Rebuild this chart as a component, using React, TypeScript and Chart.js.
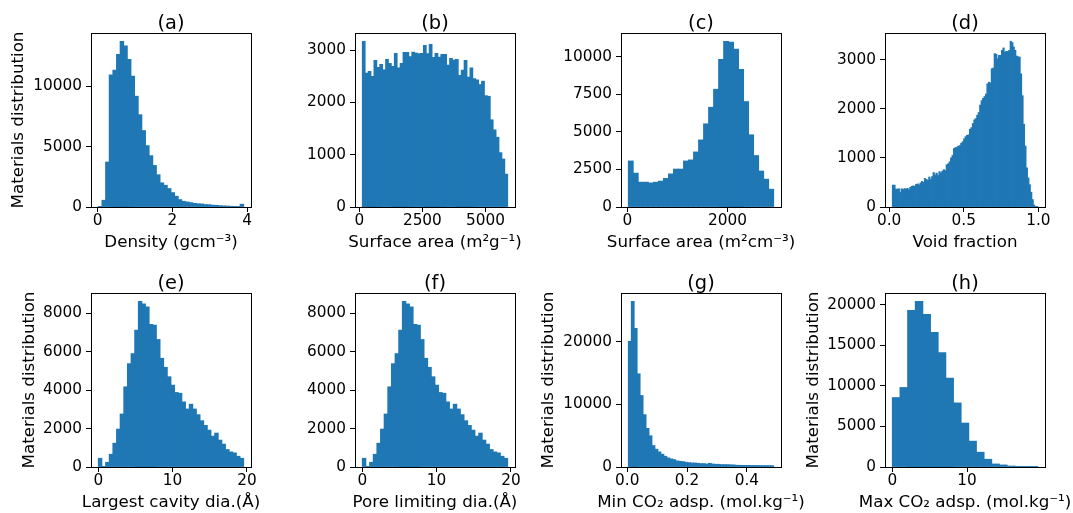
import React, { useEffect, useRef } from 'react';
import { Chart, registerables } from 'chart.js';

Chart.register(...registerables);

const FONT = "'DejaVu Sans', 'Liberation Sans', sans-serif";
const BAR_COLOR = '#1f77b4';
const TICK_SIZE = 15.3;
const LABEL_SIZE = 16.7;
const TITLE_SIZE = 19.4;
const Y_LABEL = 'Materials distribution';

// ---------- (a) Density ----------
const densityStart = 0.02;
const densityWidth = 0.0973;
const densityCounts = [20, 555, 3720, 10940, 11330, 12640, 13720, 13330, 12220, 10830, 9170, 7640, 6330, 5080, 4250, 3440, 2670, 2000, 1800, 1530, 1190, 890, 610, 470, 420, 360, 300, 270, 250, 200, 190, 150, 140, 110, 90, 80, 60, 50, 40, 230];
const densityXTicks = [0, 2, 4];
const densityYTicks = [0, 5000, 10000];

// ---------- (b) Surface area (m2/g) ----------
const gravStart = 120;
const gravWidth = 115.2;
const gravCounts = [3172, 2562, 2594, 2498, 2806, 2671, 2729, 2626, 2825, 2748, 2690, 2940, 2664, 2748, 2960, 2960, 2876, 2966, 2947, 2934, 2940, 3094, 2934, 3114, 2863, 2940, 2870, 2921, 2921, 2716, 2844, 2812, 2825, 2517, 2620, 2806, 2485, 2664, 2459, 2433, 2343, 2408, 2131, 2119, 1669, 1477, 1335, 1040, 918, 629];
const gravXTicks = [0, 2500, 5000];
const gravYTicks = [0, 1000, 2000, 3000];

// ---------- (c) Surface area (m2/cm3) ----------
const volStart = 20;
const volWidth = 100;
const volCounts = [3060, 2250, 1650, 1650, 1600, 1650, 1720, 1900, 2200, 2520, 2520, 3060, 3130, 3660, 4460, 5530, 6630, 7830, 9820, 11020, 10960, 10490, 9150, 7010, 4800, 3420, 2390, 1850, 1180];
const volXTicks = [0, 2000];
const volYTicks = [0, 2500, 5000, 7500, 10000];

// ---------- (d) Void fraction ----------
const voidStart = 0.021;
const voidWidth = 0.00975;
const voidCounts = [
  445, 445, 363, 363, 370, 300, 370, 355, 375, 360,
  380, 350, 400, 420, 430, 420, 460, 470, 450, 490,
  520, 500, 580, 560, 540, 610, 560, 620, 700, 650,
  690, 640, 720, 690, 730, 760, 740, 860, 880, 920,
  1000, 1050, 1190, 1210, 1220, 1240, 1250, 1300, 1330, 1390,
  1432, 1460, 1470, 1583, 1617, 1700, 1775, 1802, 1870, 1925,
  2076, 2165, 2213, 2250, 2302, 2508, 2542, 2528, 2816, 2830,
  3124, 3110, 3021, 3090, 3090, 3192, 3240, 3158, 3172, 3172,
  3192, 3377, 3350, 3261, 3192, 3076, 3060, 3055, 2713, 2268,
  1686, 1241, 796, 590, 453, 300, 150, 40, 10, 5,
];
const voidXTicks = [0, 0.5, 1];
const voidYTicks = [0, 1000, 2000, 3000];

// ---------- (e) Largest cavity diameter ----------
const lcdStart = 0;
const lcdWidth = 0.48925;
const lcdCounts = [454, 35, 245, 664, 1240, 1974, 2760, 4175, 5380, 5905, 7128, 8630, 8490, 8333, 7425, 7390, 6640, 5660, 5190, 4700, 4263, 3880, 3840, 3390, 3020, 3270, 3020, 2725, 2410, 2166, 1920, 1607, 1765, 1400, 1190, 910, 786, 735, 560, 454];
const lcdXTicks = [0, 10, 20];
const lcdYTicks = [0, 2000, 4000, 6000, 8000];

// ---------- (f) Pore limiting diameter ----------
const pldStart = 0;
const pldWidth = 0.48925;
const pldCounts = [454, 35, 245, 664, 1240, 1974, 2760, 4175, 5380, 5905, 7128, 8630, 8490, 8333, 7425, 7390, 6640, 5660, 5190, 4700, 4263, 3880, 3840, 3390, 3020, 3270, 3020, 2725, 2410, 2166, 1920, 1607, 1765, 1400, 1190, 910, 786, 735, 560, 454];
const pldXTicks = [0, 10, 20];
const pldYTicks = [0, 2000, 4000, 6000, 8000];

// ---------- (g) Min CO2 adsorption ----------
const minStart = 0.0034;
const minWidth = 0.009931;
const minCounts = [20100, 26500, 22160, 14900, 11430, 8370, 6170, 4990, 3430, 2840, 2410, 2040, 1720, 1450, 1290, 1180, 970, 910, 860, 750, 700, 640, 640, 590, 540, 540, 480, 590, 480, 430, 430, 380, 380, 370, 350, 330, 280, 270, 260, 250, 250, 240, 240, 230, 230, 220, 220, 220, 210];
const minXTicks = [0, 0.2, 0.4];
const minYTicks = [0, 10000, 20000];

// ---------- (h) Max CO2 adsorption ----------
const maxStart = 0;
const maxWidth = 1.0237;
const maxCounts = [8550, 9790, 19290, 20410, 18800, 16570, 14090, 10950, 7890, 5410, 3180, 1820, 950, 370, 250, 120, 80, 40, 30];
const maxXTicks = [0, 10];
const maxYTicks = [0, 5000, 10000, 15000, 20000];

// ---------- layout ----------
const AX_W = 160;
const AX_H = 174;
const PAD_L = 90;
const PAD_T = 33;
const PAD_R = 40;
const PAD_B = 56;
const COL_LEFT = [91, 355, 621, 885];
const ROW_TOP = [33, 293];

const panels = [
  { title: '(a)', xLabel: 'Density (gcm⁻³)', yLabel: Y_LABEL, yOff: 72.4, start: densityStart, width: densityWidth, counts: densityCounts, xTicks: densityXTicks, yTicks: densityYTicks, xDec: 0, col: 0, row: 0 },
  { title: '(b)', xLabel: 'Surface area (m²g⁻¹)', yLabel: '', yOff: 0, start: gravStart, width: gravWidth, counts: gravCounts, xTicks: gravXTicks, yTicks: gravYTicks, xDec: 0, col: 1, row: 0 },
  { title: '(c)', xLabel: 'Surface area (m²cm⁻³)', yLabel: '', yOff: 0, start: volStart, width: volWidth, counts: volCounts, xTicks: volXTicks, yTicks: volYTicks, xDec: 0, col: 2, row: 0 },
  { title: '(d)', xLabel: 'Void fraction', yLabel: '', yOff: 0, start: voidStart, width: voidWidth, counts: voidCounts, xTicks: voidXTicks, yTicks: voidYTicks, xDec: 1, col: 3, row: 0 },
  { title: '(e)', xLabel: 'Largest cavity dia.(Å)', yLabel: Y_LABEL, yOff: 61, start: lcdStart, width: lcdWidth, counts: lcdCounts, xTicks: lcdXTicks, yTicks: lcdYTicks, xDec: 0, col: 0, row: 1 },
  { title: '(f)', xLabel: 'Pore limiting dia.(Å)', yLabel: '', yOff: 0, start: pldStart, width: pldWidth, counts: pldCounts, xTicks: pldXTicks, yTicks: pldYTicks, xDec: 0, col: 1, row: 1 },
  { title: '(g)', xLabel: 'Min CO₂ adsp. (mol.kg⁻¹)', yLabel: Y_LABEL, yOff: 72.7, start: minStart, width: minWidth, counts: minCounts, xTicks: minXTicks, yTicks: minYTicks, xDec: 1, col: 2, row: 1 },
  { title: '(h)', xLabel: 'Max CO₂ adsp. (mol.kg⁻¹)', yLabel: Y_LABEL, yOff: 71.7, start: maxStart, width: maxWidth, counts: maxCounts, xTicks: maxXTicks, yTicks: maxYTicks, xDec: 0, col: 3, row: 1 },
];

const framePlugin = {
  id: 'frame',
  afterDraw(chart: any, _args: any, o: any) {
    const { ctx, chartArea: ca } = chart;
    ctx.save();
    ctx.strokeStyle = '#000';
    ctx.lineWidth = 1;
    ctx.strokeRect(ca.left + 0.5, ca.top + 0.5, ca.right - ca.left, ca.bottom - ca.top);
    ctx.fillStyle = '#000';
    ctx.textAlign = 'center';
    ctx.textBaseline = 'middle';
    const cx = (ca.left + ca.right) / 2;
    ctx.font = `${TITLE_SIZE}px ${FONT}`;
    ctx.fillText(o.title, cx, ca.top - 9.5);
    ctx.font = `${LABEL_SIZE}px ${FONT}`;
    ctx.fillText(o.xLabel, cx, ca.bottom + 35.5);
    if (o.yLabel) {
      ctx.translate(ca.left - o.yOff, (ca.top + ca.bottom) / 2);
      ctx.rotate(-Math.PI / 2);
      ctx.fillText(o.yLabel, 0, 0);
    }
    ctx.restore();
  },
};

function Panel({ p }: { p: any }) {
  const ref = useRef<HTMLCanvasElement | null>(null);
  const W = PAD_L + AX_W + PAD_R;
  const H = PAD_T + AX_H + PAD_B;
  const left = COL_LEFT[p.col] - PAD_L;
  const top = ROW_TOP[p.row] - PAD_T;

  useEffect(() => {
    if (!ref.current) return;
    const data = p.counts.map((c: number, i: number) => ({ x: p.start + p.width * (i + 0.5), y: c }));
    const end = p.start + p.width * p.counts.length;
    const range = end - p.start;
    const yMax = Math.max(...p.counts) * 1.05;
    const tickFont = { family: FONT, size: TICK_SIZE, lineHeight: 1 };
    const chart = new Chart(ref.current, {
      type: 'bar',
      data: {
        datasets: [
          {
            data,
            backgroundColor: BAR_COLOR,
            borderWidth: 0,
            barPercentage: 1,
            categoryPercentage: 1,
            inflateAmount: 0.4,
          } as any,
        ],
      },
      options: {
        animation: false,
        responsive: false,
        maintainAspectRatio: false,
        events: [],
        layout: { padding: { top: PAD_T, right: PAD_R, bottom: 0, left: 0 } },
        plugins: {
          legend: { display: false },
          tooltip: { enabled: false },
          title: { display: false },
          frame: { title: p.title, xLabel: p.xLabel, yLabel: p.yLabel, yOff: p.yOff },
        } as any,
        scales: {
          x: {
            type: 'linear',
            offset: false,
            min: p.start - 0.05 * range,
            max: end + 0.05 * range,
            afterBuildTicks: (s: any) => {
              s.ticks = p.xTicks.map((v: number) => ({ value: v }));
            },
            afterFit: (s: any) => {
              s.height = PAD_B;
            },
            grid: {
              display: true,
              offset: false,
              drawOnChartArea: false,
              drawTicks: true,
              tickLength: 5,
              tickColor: '#000',
              tickWidth: 1,
            },
            border: { display: false },
            ticks: {
              font: tickFont,
              color: '#000',
              padding: 1,
              maxRotation: 0,
              minRotation: 0,
              autoSkip: false,
              callback: (v: any) => Number(v).toFixed(p.xDec),
            },
          },
          y: {
            type: 'linear',
            min: 0,
            max: yMax,
            afterBuildTicks: (s: any) => {
              s.ticks = p.yTicks.map((v: number) => ({ value: v }));
            },
            afterFit: (s: any) => {
              s.width = PAD_L;
            },
            grid: {
              display: true,
              drawOnChartArea: false,
              drawTicks: true,
              tickLength: 5,
              tickColor: '#000',
              tickWidth: 1,
            },
            border: { display: false },
            ticks: {
              font: tickFont,
              color: '#000',
              padding: 4,
              autoSkip: false,
              callback: (v: any) => String(v),
            },
          },
        },
      } as any,
      plugins: [framePlugin],
    });
    return () => chart.destroy();
  }, []);

  return (
    <canvas
      ref={ref}
      width={W}
      height={H}
      style={{ position: 'absolute', left, top, width: W, height: H }}
    />
  );
}

export default function App() {
  return (
    <div
      style={{
        position: 'absolute',
        left: 0,
        top: 0,
        width: 1073,
        height: 513,
        overflow: 'hidden',
        background: '#fff',
      }}
    >
      {panels.map((p) => (
        <Panel key={p.title} p={p} />
      ))}
    </div>
  );
}
